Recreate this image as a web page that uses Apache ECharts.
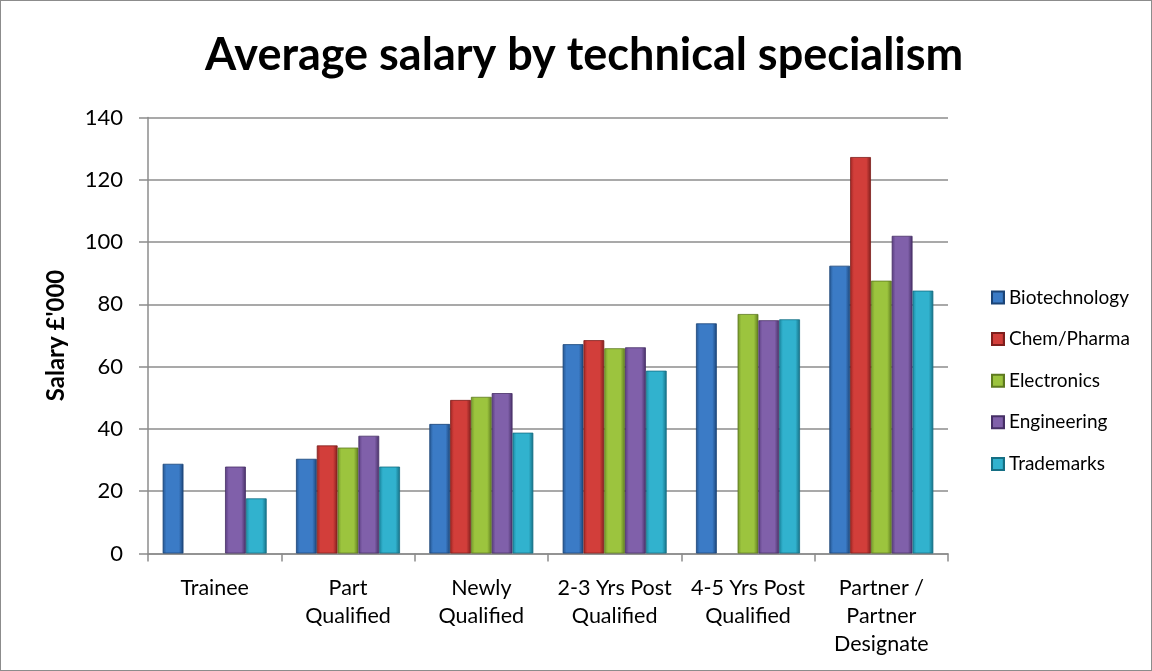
<!DOCTYPE html>
<html><head><meta charset="utf-8">
<script src="https://cdn.jsdelivr.net/npm/echarts@6/dist/echarts.min.js"></script>
<style>html,body{margin:0;padding:0;background:#fff}#c{width:1150px;height:669px;border:1px solid #8c8c8c}</style>
</head><body><div id="c"></div>
<script>
const title = 'Average salary by technical specialism';
const yAxisName = "Salary £'000";
const categories = ['Trainee', 'Part\nQualified', 'Newly\nQualified', '2-3 Yrs Post\nQualified', '4-5 Yrs Post\nQualified', 'Partner /\nPartner\nDesignate'];
const seriesNames = ['Biotechnology', 'Chem/Pharma', 'Electronics', 'Engineering', 'Trademarks'];
const biotechnology = [28.8, 30.4, 41.6, 67.2, 73.9, 92.4];
const chemPharma = [null, 34.7, 49.3, 68.5, null, 127.3];
const electronics = [null, 34.0, 50.3, 65.9, 76.9, 87.6];
const engineering = [27.9, 37.8, 51.5, 66.2, 74.9, 102.0];
const trademarks = [17.7, 27.9, 38.8, 58.7, 75.2, 84.4];
const yTicks = [0, 20, 40, 60, 80, 100, 120, 140];

const values = [biotechnology, chemPharma, electronics, engineering, trademarks];
const palette = [
  ['#24558f', '#3b7bc6', '#1b4477'],
  ['#9c2623', '#d23e3a', '#7f1e1c'],
  ['#74962a', '#9cc43e', '#5e7a20'],
  ['#583b7e', '#8060aa', '#462f66'],
  ['#1b87a0', '#31b2ce', '#156f84']
];
function grad(p) {
  return new echarts.graphic.LinearGradient(0, 0, 1, 0, [
    {offset: 0, color: p[0]}, {offset: 0.18, color: p[1]}, {offset: 0.78, color: p[1]}, {offset: 1, color: p[2]}
  ]);
}
const chart = echarts.init(document.getElementById('c'));
chart.setOption({
  animation: false,
  color: palette.map(p => p[1]),
  textStyle: {fontFamily: 'Lato, "Open Sans", sans-serif'},
  title: {text: title, left: 199, top: 27,
    textStyle: {fontFamily: 'Lato, sans-serif', fontSize: 45, fontWeight: 'bold', color: '#000'}},
  legend: {orient: 'vertical', left: 985, top: 282, itemWidth: 12, itemHeight: 12, itemGap: 22.6,
    icon: 'rect', data: seriesNames,
    textStyle: {fontSize: 19, color: '#000'}},
  grid: {left: 147, right: 203, top: 116.5, bottom: 116.5},
  xAxis: {type: 'category', data: categories,
    axisLine: {lineStyle: {color: '#8c8c8c', width: 1.5}},
    axisTick: {show: true, length: 8, lineStyle: {color: '#8c8c8c', width: 1.5}},
    axisLabel: {fontSize: 21.5, color: '#000', lineHeight: 28, margin: 21, interval: 0, hideOverlap: false}},
  yAxis: {type: 'value', min: 0, max: 140, interval: 20,
    name: yAxisName, nameLocation: 'middle', nameGap: 80, nameRotate: 90,
    nameTextStyle: {fontSize: 24, fontWeight: 'bold', color: '#000'},
    axisLine: {show: true, lineStyle: {color: '#8c8c8c', width: 1.5}},
    axisTick: {show: true, length: 9, lineStyle: {color: '#8c8c8c', width: 1.5}},
    splitLine: {lineStyle: {color: '#8c8c8c', width: 1.5}},
    axisLabel: {fontSize: 22, color: '#000', margin: 25,
      formatter: v => yTicks.includes(v) ? String(v) : ''}},
  series: seriesNames.map((n, i) => ({
    name: n, type: 'bar', data: values[i], barGap: '0%', barCategoryGap: '22%',
    itemStyle: {color: grad(palette[i]), borderColor: palette[i][2], borderWidth: 0.8}
  }))
});
</script></body></html>
